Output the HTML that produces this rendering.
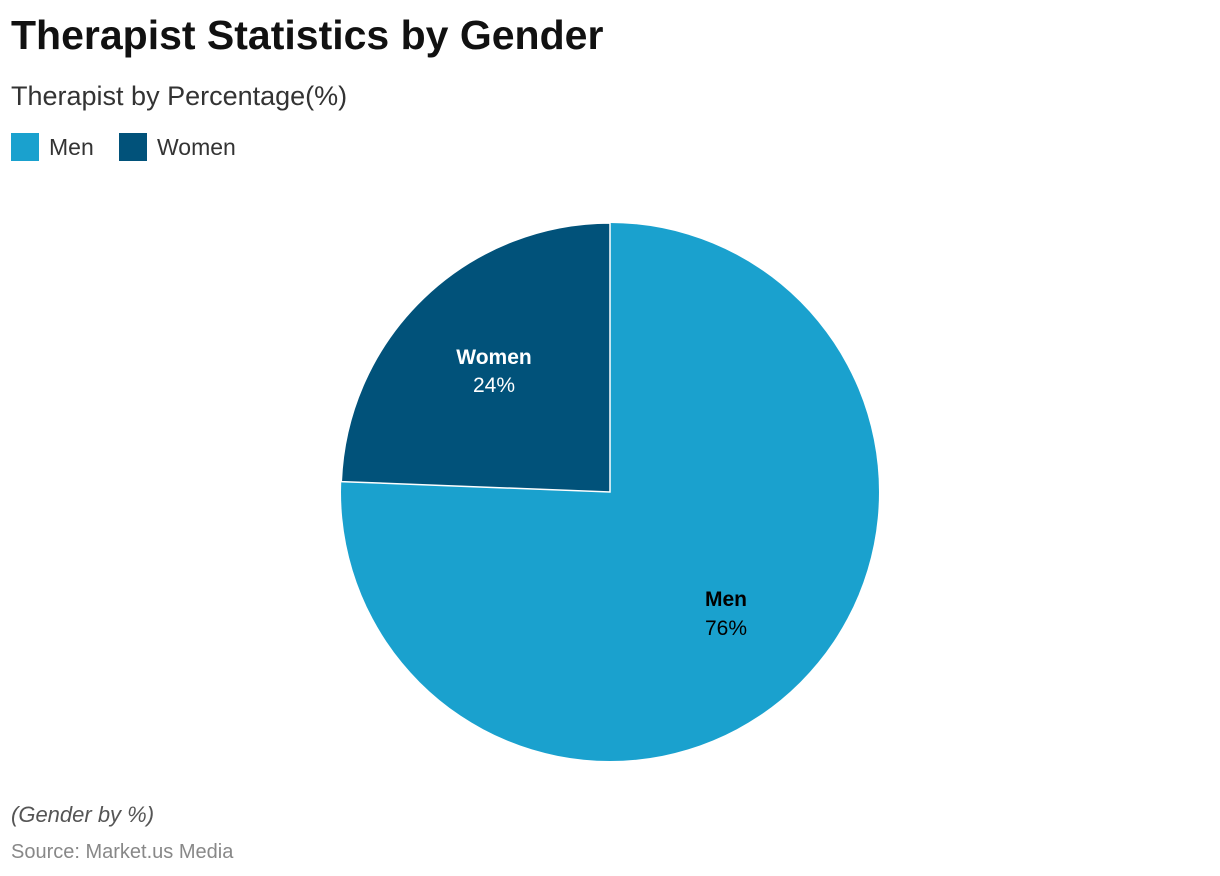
<!DOCTYPE html>
<html><head><style>
body{margin:0;width:1220px;height:876px;background:#fff;font-family:"Liberation Sans",Arial,sans-serif;position:relative;overflow:hidden}
.t{position:absolute;left:11px;top:12px;font-size:41px;font-weight:bold;color:#111;letter-spacing:0}
.s{position:absolute;left:11px;top:81px;font-size:27px;color:#333}
.lg{position:absolute;top:133px;font-size:23px;color:#333;display:flex;align-items:center}
.lg i{display:inline-block;width:28px;height:28px;margin-right:10px}
.n{position:absolute;left:11px;top:802px;font-size:22px;font-style:italic;color:#555}
.src{position:absolute;left:11px;top:841px;font-size:20px;color:#888}
</style></head><body>
<div class="t">Therapist Statistics by Gender</div>
<div class="s">Therapist by Percentage(%)</div>
<div class="lg" style="left:11px"><i style="background:#1aa1ce"></i>Men</div>
<div class="lg" style="left:119px"><i style="background:#01527a"></i>Women</div>
<svg width="1220" height="876" style="position:absolute;left:0;top:0">
<circle cx="610" cy="492" r="269" fill="#1aa1ce"/>
<path d="M610 492 L610 223 A269 269 0 0 0 341.3 481.6 Z" fill="#01527a" stroke="#fff" stroke-width="1.5"/>
<text x="494" y="364" text-anchor="middle" font-size="21" font-weight="bold" fill="#fff">Women</text>
<text x="494" y="392" text-anchor="middle" font-size="21" fill="#fff">24%</text>
<text x="726" y="606" text-anchor="middle" font-size="21" font-weight="bold" fill="#000">Men</text>
<text x="726" y="635" text-anchor="middle" font-size="21" fill="#000">76%</text>
</svg>
<div class="n">(Gender by %)</div>
<div class="src">Source: Market.us Media</div>
</body></html>
